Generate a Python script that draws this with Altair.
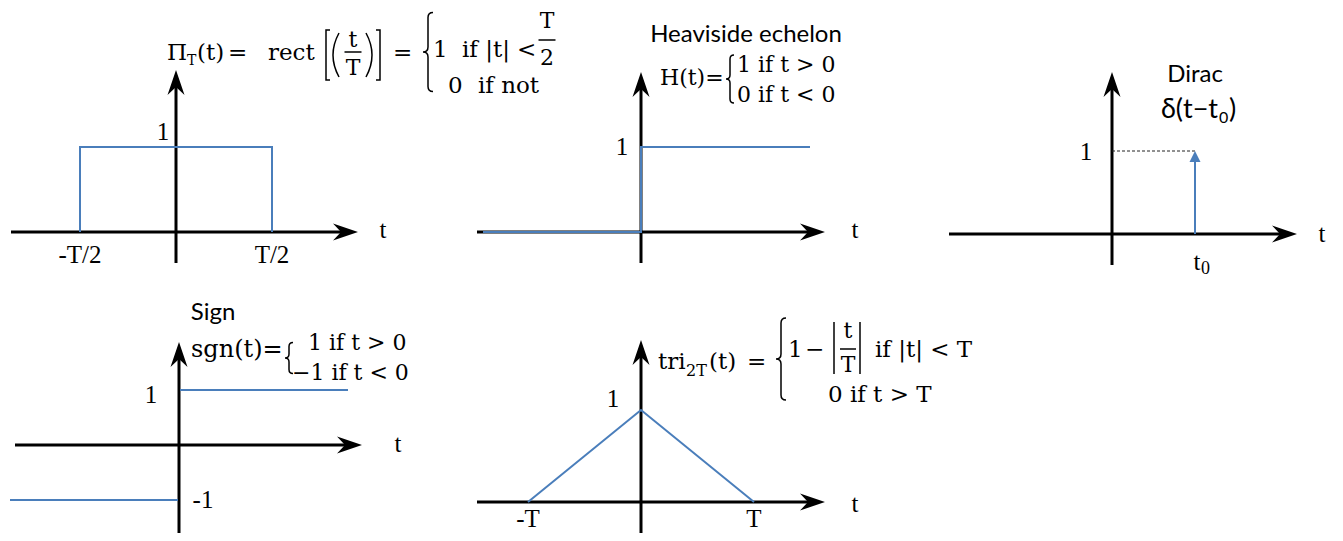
import altair as alt
import pandas as pd

# ---------------- signal values (each panel in its own units) ----------------
rect_t = [-0.5, -0.5, 0.5, 0.5]          # units of T
rect_v = [0, 1, 1, 0]
heav_t = [-1.58, 0, 0, 1.69]
heav_v = [0, 0, 1, 1]
dirac_t0 = [0.83]
dirac_amp = [1]
sign_t = [-1.69, -0.01, 0.01, 1.69]
sign_v = [-1, -1, 1, 1]
sign_seg = ["neg", "neg", "pos", "pos"]
tri_t = [-1, 0, 1]                        # units of T
tri_v = [0, 1, 0]

# tick / value labels
rect_ticks = [-0.5, 0.5]
rect_tick_labels = ["-T/2", "T/2"]
tri_ticks = [-1, 1]
tri_tick_labels = ["-T", "T"]
value_label_panels = ["rect", "heav", "dirac", "sign", "sign", "tri"]
value_label_values = [1, 1, 1, 1, -1, 1]
value_label_texts = ["1", "1", "1", "1", "-1", "1"]

# ---------------- layout / style ----------------
X0, X1, Y0, Y1 = 8, 1335, 8, 533
W, H = X1 - X0, Y1 - Y0
BLUE = "#4a7ebb"
SERIF = "Liberation Serif"
MATH = "DejaVu Serif"
SANS = "Lato"

PANELS = {
    "rect":  dict(ox=176, oy=232, kx=192, ky=85, hl=11, hr=358, vb=263, vt=70, tdx=25, tdy=6),
    "heav":  dict(ox=641, oy=232, kx=100, ky=85, hl=477, hr=825, vb=263, vt=72, tdx=30, tdy=6),
    "dirac": dict(ox=1112, oy=234, kx=100, ky=83, hl=949, hr=1297, vb=265, vt=72, tdx=25, tdy=8),
    "sign":  dict(ox=179, oy=445, kx=100, ky=55, hl=15, hr=362, vb=533, vt=342, tdx=36, tdy=7),
    "tri":   dict(ox=641, oy=502, kx=113, ky=92, hl=477, hr=825, vb=533, vt=340, tdx=30, tdy=10),
}
VALUE_LABEL_OFFSETS = [(-13, -7), (-19, 8), (-26, 9), (-28, 13), (24, 8), (-28, -3)]

ARROW_R = "M0,0 L-25,-8.5 L-17,0 L-25,8.5 Z"
ARROW_U = "M0,0 L-8.5,25 L0,17 L8.5,25 Z"
DIRAC_TIP = "M0,0 L5.5,11 L-5.5,11 Z"


def brace(h, w=9):
    a = h / 2.0
    s = w / 2.0
    return (f"M{s},{-a} Q0,{-a} 0,{-a + s} L0,{-s} Q0,0 {-s},0 "
            f"Q0,0 0,{s} L0,{a - s} Q0,{a} {s},{a}")


def lbrack(h):
    a = h / 2.0
    return f"M4,{-a} L0,{-a} L0,{a} L4,{a}"


def rbrack(h):
    a = h / 2.0
    return f"M-4,{-a} L0,{-a} L0,{a} L-4,{a}"


def lparen(h):
    a = h / 2.0
    return f"M3,{-a} Q-9,0 3,{a}"


def rparen(h):
    a = h / 2.0
    return f"M-3,{-a} Q9,0 -3,{a}"


def vbar(h):
    a = h / 2.0
    return f"M0,{-a} L0,{a}"


def hbar(w):
    a = w / 2.0
    return f"M{-a},0 L{a},0"


# formula pieces: (text, x, baseline y, size, font, align)
TEXTS = [
    ("\u03a0", 167, 60, 23, MATH, "left"),
    ("T", 187, 65, 14, MATH, "left"),
    ("(t)", 197, 60, 23, MATH, "left"),
    ("=", 228, 60, 23, MATH, "left"),
    ("rect", 268, 60, 23, MATH, "left"),
    ("t", 353, 47, 22, MATH, "center"),
    ("T", 353, 75, 22, MATH, "center"),
    ("=", 393, 60, 23, MATH, "left"),
    ("1", 433, 57, 23, MATH, "left"),
    ("if |t|", 462, 57, 23, MATH, "left"),
    ("<", 517, 57, 23, MATH, "left"),
    ("T", 547, 28, 22, MATH, "center"),
    ("2", 547, 65, 22, MATH, "center"),
    ("0", 448, 93, 23, MATH, "left"),
    ("if not", 478, 93, 23, MATH, "left"),
    ("Heaviside echelon", 746, 42, 24, SANS, "center"),
    ("H(t)=", 660, 85, 22, MATH, "left"),
    ("1 if t > 0", 737, 72, 22, MATH, "left"),
    ("0 if t < 0", 737, 102, 22, MATH, "left"),
    ("Dirac", 1195, 82, 24, SANS, "center"),
    ("\u03b4(t\u2212t", 1218, 118, 27, SANS, "right"),
    ("0", 1219, 123, 16, SANS, "left"),
    (")", 1229, 118, 27, SANS, "left"),
    ("Sign", 213, 320, 24, SANS, "center"),
    ("sgn(t)=", 191, 357, 24, MATH, "left"),
    ("1 if t > 0", 308, 350, 22, MATH, "left"),
    ("\u22121 if t < 0", 292, 380, 22, MATH, "left"),
    ("tri", 658, 369, 23, MATH, "left"),
    ("2T", 686, 376, 16, MATH, "left"),
    ("(t)", 709, 369, 23, MATH, "left"),
    ("=", 747, 369, 23, MATH, "left"),
    ("1", 788, 357, 23, MATH, "left"),
    ("\u2212", 805, 357, 23, MATH, "left"),
    ("t", 848, 338, 22, MATH, "center"),
    ("T", 848, 372, 22, MATH, "center"),
    ("if |t| < T", 875, 357, 23, MATH, "left"),
    ("0 if t > T", 828, 402, 23, MATH, "left"),
]

# stroked glyph paths: (path, x, y)
PATHS = [
    (lbrack(50), 326, 55), (lparen(44), 336, 55), (rparen(44), 369, 55), (rbrack(50), 380, 55),
    (hbar(17), 353, 52),
    (brace(79, 10), 428, 52),
    (hbar(17), 547, 40),
    (brace(48, 8), 730, 79),
    (brace(31, 8), 289, 358),
    (brace(82, 10), 781, 359),
    (vbar(52), 834, 348), (vbar(52), 860, 348),
    (hbar(16), 848, 349),
]

PIX_X = alt.Scale(domain=[X0, X1], nice=False, zero=False)
PIX_Y = alt.Scale(domain=[Y0, Y1], reverse=True, nice=False, zero=False)


def scales(p):
    xs = alt.Scale(domain=[(X0 - p["ox"]) / p["kx"], (X1 - p["ox"]) / p["kx"]], nice=False, zero=False)
    ys = alt.Scale(domain=[(p["oy"] - Y1) / p["ky"], (p["oy"] - Y0) / p["ky"]], nice=False, zero=False)
    return xs, ys


def ux(p, px):
    return (px - p["ox"]) / p["kx"]


def uy(p, py):
    return (p["oy"] - py) / p["ky"]


def rule_layer(df, xs, ys, **mk):
    return alt.Chart(df).mark_rule(**mk).encode(
        x=alt.X("x:Q", scale=xs, axis=None), x2="x2:Q",
        y=alt.Y("y:Q", scale=ys, axis=None), y2="y2:Q")


def symbol_layer(df, xs, ys, **mk):
    return alt.Chart(df).mark_point(opacity=1, **mk).encode(
        x=alt.X("x:Q", scale=xs, axis=None),
        y=alt.Y("y:Q", scale=ys, axis=None),
        shape=alt.Shape("shape:N", scale=None),
        size=alt.value(4))


layers = []

# axes with arrowheads
for name, p in PANELS.items():
    xs, ys = scales(p)
    axes = pd.DataFrame([
        dict(x=ux(p, p["hl"]), x2=ux(p, p["hr"] - 16), y=0.0, y2=0.0),
        dict(x=0.0, x2=0.0, y=uy(p, p["vb"]), y2=uy(p, p["vt"] + 16)),
    ])
    layers.append(rule_layer(axes, xs, ys, color="black", strokeWidth=3))
    heads = pd.DataFrame([
        dict(x=ux(p, p["hr"]), y=0.0, shape=ARROW_R),
        dict(x=0.0, y=uy(p, p["vt"]), shape=ARROW_U),
    ])
    layers.append(symbol_layer(heads, xs, ys, filled=True, color="black", strokeWidth=0))

# signals
signals = {
    "rect": pd.DataFrame({"t": rect_t, "v": rect_v, "seg": "a"}),
    "heav": pd.DataFrame({"t": heav_t, "v": heav_v, "seg": "a"}),
    "sign": pd.DataFrame({"t": sign_t, "v": sign_v, "seg": sign_seg}),
    "tri": pd.DataFrame({"t": tri_t, "v": tri_v, "seg": "a"}),
}
for name, df in signals.items():
    p = PANELS[name]
    xs, ys = scales(p)
    df = df.copy()
    df["i"] = range(len(df))
    layers.append(alt.Chart(df).mark_line(color=BLUE, strokeWidth=2).encode(
        x=alt.X("t:Q", scale=xs, axis=None),
        y=alt.Y("v:Q", scale=ys, axis=None),
        order=alt.Order("i:Q"),
        detail="seg:N"))

# Dirac impulse
p = PANELS["dirac"]
xs, ys = scales(p)
ddf = pd.DataFrame({"t": dirac_t0, "a": dirac_amp})
dotted = pd.DataFrame({"x": [0.0] * len(ddf), "x2": ddf["t"], "y": ddf["a"], "y2": ddf["a"]})
layers.append(rule_layer(dotted, xs, ys, color="#222222", strokeWidth=1, strokeDash=[3, 2]))
stem = pd.DataFrame({"x": ddf["t"], "x2": ddf["t"], "y": [0.0] * len(ddf), "y2": ddf["a"] - 8 / p["ky"]})
layers.append(rule_layer(stem, xs, ys, color=BLUE, strokeWidth=2))
tip = pd.DataFrame({"x": ddf["t"], "y": ddf["a"], "shape": DIRAC_TIP})
layers.append(symbol_layer(tip, xs, ys, filled=True, color=BLUE, strokeWidth=0))

# labels derived from the data
labels = list(TEXTS)
pr = PANELS["rect"]
for t, lbl in zip(rect_ticks, rect_tick_labels):
    labels.append((lbl, pr["ox"] + pr["kx"] * t, pr["oy"] + 31, 25, SERIF, "center"))
pt = PANELS["tri"]
for t, lbl in zip(tri_ticks, tri_tick_labels):
    labels.append((lbl, pt["ox"] + pt["kx"] * t, pt["oy"] + 25, 25, SERIF, "center"))
for pn, v, txt, (dx, dy) in zip(value_label_panels, value_label_values, value_label_texts, VALUE_LABEL_OFFSETS):
    q = PANELS[pn]
    labels.append((txt, q["ox"] + dx, q["oy"] - q["ky"] * v + dy, 25, SERIF, "center"))
for pn, q in PANELS.items():
    labels.append(("t", q["hr"] + q["tdx"], q["oy"] + q["tdy"], 25, SERIF, "center"))
pd_ = PANELS["dirac"]
for t0 in dirac_t0:
    xx = pd_["ox"] + pd_["kx"] * t0
    labels.append(("t", xx + 2, pd_["oy"] + 36, 25, SERIF, "center"))
    labels.append(("0", xx + 6, pd_["oy"] + 40, 18, SERIF, "left"))

tdf = pd.DataFrame(labels, columns=["text", "x", "y", "size", "font", "align"])
for (font, align), g in tdf.groupby(["font", "align"]):
    layers.append(alt.Chart(g).mark_text(font=font, align=align, baseline="alphabetic", color="black").encode(
        x=alt.X("x:Q", scale=PIX_X, axis=None),
        y=alt.Y("y:Q", scale=PIX_Y, axis=None),
        text="text:N",
        size=alt.Size("size:Q", scale=None)))

pdf = pd.DataFrame(PATHS, columns=["shape", "x", "y"])
layers.append(symbol_layer(pdf, PIX_X, PIX_Y, filled=False, color="black", strokeWidth=1.5))

chart = alt.layer(*layers).resolve_scale(x="independent", y="independent").properties(
    width=W, height=H, padding=0,
    autosize=alt.AutoSizeParams(type="none"),
).configure_view(stroke=None)

chart.save("out.html", embed_options={"renderer": "svg", "actions": False})
